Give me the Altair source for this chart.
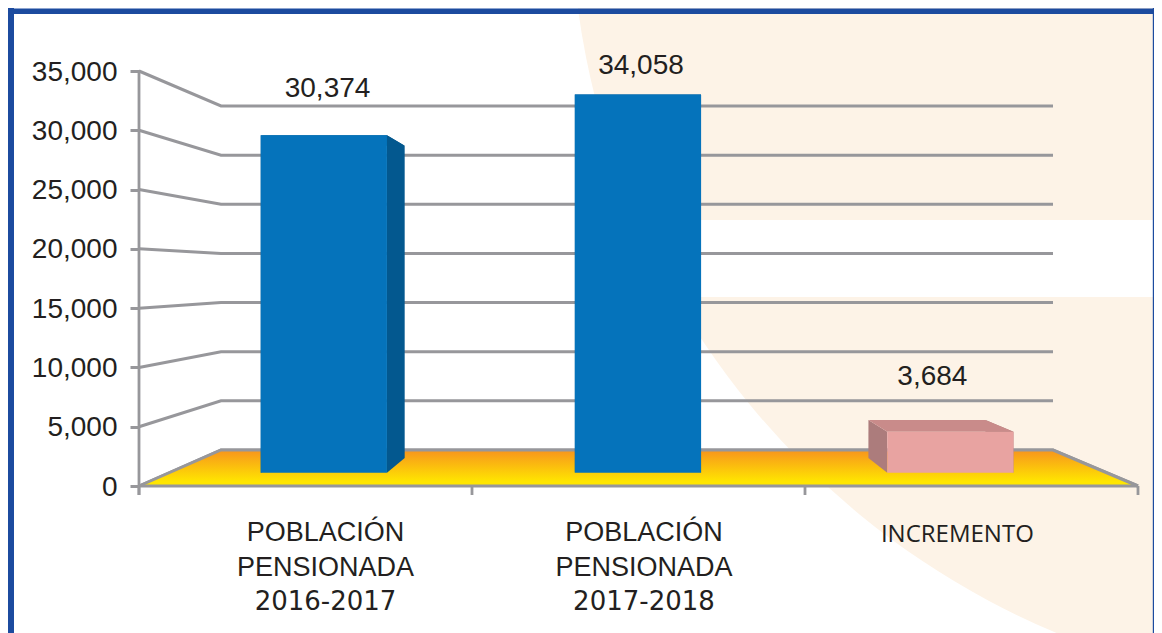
import altair as alt
import pandas as pd

# ---- values
category_names = ["POBLACIÓN\nPENSIONADA", "POBLACIÓN\nPENSIONADA", "INCREMENTO"]
category_years = ["2016-2017", "2017-2018", ""]
values = [30374, 34058, 3684]
axis_ticks = [0, 5000, 10000, 15000, 20000, 25000, 30000, 35000]

# ---- style
front_colors = ["#0573bb", "#0573bb", "#e8a3a1"]
side_colors = ["#03588f", "#03588f", "#ac7c7c"]
top_colors = ["#03588f", "#03588f", "#c98b8a"]
GRID = "#97979b"
INK = "#231f20"
CREAM = "#fdf3e7"
BLUE = "#1c4b9f"

# ---- perspective box: depth 0 is the front of the floor, depth 1 the back wall
FRONT_L, FRONT_R, BACK_L, BACK_R = 139, 1138, 221, 1053
FRONT_BASE, BACK_BASE, TOP_FRONT, TOP_BACK = 486, 450, 71, 106
DMAX = 35000
BAR_D, BAR_BACK_D = 0.37, 0.78
BAR_SHARE = 0.404
W, H = 1146, 625
bar_du = [-0.0018, 0, 0]
label_dx = [2, 3, -18]
label_rise = [46, 28, 55]
cat_dx = [0, 6, 7]


def lerp(a, b, t):
    return a + (b - a) * t


def px(u, d):
    return lerp(lerp(FRONT_L, FRONT_R, u), lerp(BACK_L, BACK_R, u), d)


def py(v, d):
    front = FRONT_BASE - v / DMAX * (FRONT_BASE - TOP_FRONT)
    back = BACK_BASE - v / DMAX * (BACK_BASE - TOP_BACK)
    return lerp(front, back, d)


def yu(p):
    """page pixel row -> units of the front-plane value axis"""
    return (FRONT_BASE - p) * DMAX / (FRONT_BASE - TOP_FRONT)


xs = alt.Scale(domain=[FRONT_L, 8 + W], nice=False, zero=False)
ys = alt.Scale(domain=[yu(8 + H), yu(8)], nice=False, zero=False)
X = alt.X("x:Q", scale=xs, axis=None)
yaxis = alt.Axis(values=axis_ticks, format=",d", title=None, grid=False, domain=False,
                 tickColor=GRID, tickWidth=3, tickSize=9, labelPadding=13, labelOffset=1,
                 labelFont="Liberation Sans", labelFontSize=28, labelColor=INK,
                 labelOverlap=False, labelFlush=False)
Y = alt.Y("y:Q", scale=ys, axis=yaxis)


def rect_layer(rows, color):
    df = pd.DataFrame(rows, columns=["x", "x2", "y", "y2"])
    return alt.Chart(df).mark_rect(color=color, opacity=1).encode(
        x=X, x2="x2:Q", y=Y, y2="y2:Q")


# background disc and the white strip across it
disc_r = 790
disc = alt.Chart(pd.DataFrame({"x": [1361], "y": [yu(-96)]})).mark_circle(
    color=CREAM, opacity=1, size=(2 * disc_r) ** 2).encode(x=X, y=Y)
strip = rect_layer([[600, 8 + W, yu(220), yu(297)]], "#ffffff")
frame = [
    rect_layer([[8, 14, yu(8), yu(8 + H)]], BLUE),
    rect_layer([[8, 8 + W, yu(8.5), yu(14)]], BLUE),
    rect_layer([[8 + W - 1.2, 8 + W, yu(8), yu(8 + H)]], BLUE),
]

# axis line and the ticks under the floor
axis_line = rect_layer([[FRONT_L - 1.4, FRONT_L + 1.4, yu(TOP_FRONT - 1), yu(495)]], GRID)
xticks = [rect_layer([[px(i / 3, 0) - 1.4, px(i / 3, 0) + 1.4, yu(FRONT_BASE), yu(495)]], GRID)
          for i in range(4)]

# wall lines
wall = []
for v in axis_ticks:
    wall.append({"tick": v, "x": px(0, 0), "y": yu(py(v, 0))})
    wall.append({"tick": v, "x": px(0, 1), "y": yu(py(v, 1))})
    wall.append({"tick": v, "x": px(1, 1), "y": yu(py(v, 1))})
wall.append({"tick": 0, "x": px(1, 0), "y": yu(py(0, 0))})
wall_lines = alt.Chart(pd.DataFrame(wall)).mark_line(
    color=GRID, strokeWidth=3, strokeCap="butt").encode(x=X, y=Y, detail="tick:N")

# floor
floor_df = pd.DataFrame([
    {"y": yu(py(0, 1)), "x": px(0, 1), "x2": px(1, 1)},
    {"y": yu(py(0, 0)), "x": px(0, 0), "x2": px(1, 0)},
])
floor = alt.Chart(floor_df).mark_area(
    orient="horizontal",
    color=alt.Gradient(gradient="linear", x1=0, x2=0, y1=0, y2=1,
                       stops=[alt.GradientStop(color="#f7941d", offset=0),
                              alt.GradientStop(color="#ffe600", offset=0.88),
                              alt.GradientStop(color="#ffe600", offset=1)]),
).encode(x=X, x2="x2:Q", y=Y)
floor_edges = alt.Chart(pd.DataFrame(wall)[lambda d: d.tick == 0]).mark_line(
    color=GRID, strokeWidth=3).encode(x=X, y=Y)
front_line = rect_layer([[FRONT_L, FRONT_R, yu(FRONT_BASE - 1.4), yu(FRONT_BASE + 1.4)]], GRID)

# bars as boxes standing on the floor
half_u = BAR_SHARE / 3 / 2
bars = []
for i, v in enumerate(values):
    uc = (i + 0.5) / 3 + bar_du[i]
    ul, ur = uc - half_u, uc + half_u
    for u in (ul, ur):
        side = pd.DataFrame([
            {"x": px(u, BAR_D), "y": yu(py(v, BAR_D)), "y2": yu(py(0, BAR_D))},
            {"x": px(u, BAR_BACK_D), "y": yu(py(v, BAR_BACK_D)), "y2": yu(py(0, BAR_BACK_D))},
        ])
        bars.append(alt.Chart(side).mark_area(color=side_colors[i], opacity=1, orient="vertical")
                    .encode(x=X, y=Y, y2="y2:Q"))
    top = pd.DataFrame([
        {"y": yu(py(v, BAR_BACK_D)), "x": px(ul, BAR_BACK_D), "x2": px(ur, BAR_BACK_D)},
        {"y": yu(py(v, BAR_D)), "x": px(ul, BAR_D), "x2": px(ur, BAR_D)},
    ])
    bars.append(alt.Chart(top).mark_area(color=top_colors[i], opacity=1, orient="horizontal")
                .encode(x=X, x2="x2:Q", y=Y))
    bars.append(rect_layer([[px(ul, BAR_D), px(ur, BAR_D), yu(py(v, BAR_D)), yu(py(0, BAR_D))]],
                           front_colors[i]))

# value labels
lab = pd.DataFrame({
    "x": [px((i + 0.5) / 3, BAR_D) + label_dx[i] for i in range(3)],
    "y": [yu(py(values[i], BAR_D) - label_rise[i]) for i in range(3)],
    "t": [f"{v:,}" for v in values],
})
value_labels = alt.Chart(lab).mark_text(
    font="Liberation Sans", fontSize=28, color=INK, baseline="middle", align="center"
).encode(x=X, y=Y, text="t:N")

# category labels
cat_x = [px((i + 0.5) / 3, BAR_D) + cat_dx[i] for i in range(3)]
cat = pd.DataFrame({"x": cat_x, "y": [yu(520), yu(520), yu(523)], "t": category_names})
years = pd.DataFrame({"x": cat_x[:2], "y": [yu(602)] * 2, "t": category_years[:2]})
cat_big = alt.Chart(cat.iloc[:2]).mark_text(
    font="Liberation Sans", fontSize=27, color=INK, baseline="top", align="center",
    lineBreak="\n", lineHeight=35
).encode(x=X, y=Y, text="t:N")
cat_years = alt.Chart(years).mark_text(
    font="DejaVu Sans", fontSize=26, color=INK, baseline="middle", align="center"
).encode(x=X, y=Y, text="t:N")
cat_small = alt.Chart(cat.iloc[2:]).mark_text(
    font="Open Sans", fontSize=24, color=INK, baseline="top", align="center"
).encode(x=X, y=Y, text="t:N")

chart = alt.layer(
    disc, strip, *frame, axis_line, *xticks, wall_lines, floor, floor_edges, front_line,
    *bars, value_labels, cat_big, cat_years, cat_small,
).properties(
    width=W - (FRONT_L - 8), height=H,
    padding={"left": FRONT_L - 8, "top": 0, "right": 0, "bottom": 0},
    autosize=alt.AutoSizeParams(type="none"),
).configure_view(stroke=None)

chart.save("out.html", embed_options={"renderer": "svg", "actions": False})
